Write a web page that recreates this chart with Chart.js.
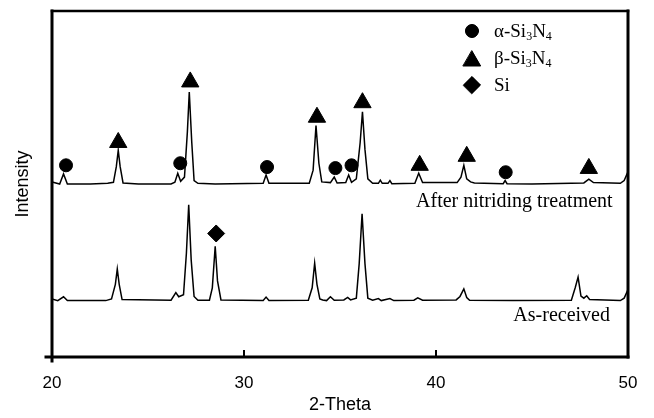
<!DOCTYPE html>
<html>
<head>
<meta charset="utf-8">
<script src="https://cdn.jsdelivr.net/npm/chart.js@4/dist/chart.umd.min.js"></script>
<style>
  html, body { margin: 0; padding: 0; background: #fff; }
  #wrap { width: 654px; height: 418px; position: relative; }
</style>
</head>
<body>
<div id="wrap"><canvas id="c" width="654" height="418"></canvas></div>
<script>
// ---- Data (2-Theta in degrees, intensity in arbitrary offset units) ----
const xTicks = [20, 30, 40, 50];

const nitridedX = [20.0, 20.4, 20.6, 20.8, 22.0, 22.9, 23.2, 23.35, 23.45, 23.55, 23.7, 24.5,
  26.2, 26.4, 26.55, 26.7, 26.9, 27.05, 27.15, 27.28, 27.4, 27.6, 28.5,
  31.0, 31.15, 31.3, 33.4, 33.6, 33.75, 33.9, 34.05, 34.5, 34.7, 34.85,
  35.3, 35.45, 35.6, 35.85, 36.05, 36.17, 36.3, 36.45, 36.7,
  37.0, 37.1, 37.2, 37.5, 37.6, 37.7, 38.9, 39.1, 39.3,
  41.1, 41.3, 41.45, 41.6, 41.8, 42.0, 43.5, 43.6, 43.7, 45.0,
  47.7, 47.96, 48.2, 49.6, 49.8, 49.95, 50.0];
const nitridedY = [50.6, 50.0, 52.9, 50.0, 50.0, 50.2, 50.5, 55.0, 59.7, 55.0, 50.3, 50.0,
  50.0, 50.5, 53.1, 50.8, 52.0, 65.0, 76.6, 62.0, 51.0, 50.2, 50.0,
  50.2, 52.6, 50.2, 50.2, 54.0, 66.9, 56.0, 50.6, 50.4, 52.0, 50.3,
  50.4, 52.6, 50.5, 51.5, 62.0, 70.9, 60.0, 51.5, 50.2,
  50.2, 51.1, 50.2, 50.2, 51.0, 50.1, 50.2, 53.1, 50.4,
  50.4, 52.0, 55.4, 51.5, 50.6, 50.3, 50.1, 51.0, 50.1, 50.0,
  50.3, 51.4, 50.4, 50.2, 51.0, 52.9, 52.0];

const receivedX = [20.0, 20.3, 20.6, 20.8, 22.8, 23.1, 23.3, 23.4, 23.5, 23.65,
  26.2, 26.45, 26.6, 26.85, 27.0, 27.12, 27.25, 27.4, 27.6,
  28.2, 28.35, 28.5, 28.62, 28.8, 31.0, 31.15, 31.3,
  33.35, 33.55, 33.68, 33.8, 33.95, 34.1, 34.3, 34.5, 34.7,
  35.2, 35.4, 35.55, 35.85, 36.0, 36.15, 36.3, 36.45, 36.7,
  37.0, 37.15, 37.6, 37.8, 38.85, 39.05, 39.3,
  41.05, 41.25, 41.45, 41.6, 41.75, 44.0,
  47.05, 47.25, 47.4, 47.55, 47.7, 47.85, 48.0, 49.6, 49.8, 49.97, 50.0];
const receivedY = [16.8, 16.3, 17.4, 16.3, 16.3, 16.8, 21.0, 25.4, 21.0, 16.6,
  16.4, 18.6, 17.4, 18.0, 30.0, 44.0, 28.0, 17.5, 16.4,
  16.4, 20.0, 32.0, 22.0, 16.5, 16.3, 17.3, 16.3,
  16.4, 20.0, 27.1, 21.0, 16.8, 16.5, 16.3, 17.4, 16.4,
  16.5, 17.2, 16.5, 17.0, 27.0, 41.4, 27.0, 17.0, 16.4,
  16.9, 16.3, 16.9, 16.3, 16.4, 17.1, 16.4,
  16.5, 17.5, 19.7, 17.2, 16.4, 16.3,
  16.4, 20.0, 23.1, 17.6, 17.0, 17.7, 16.6, 16.3, 17.0, 19.1, 18.0];

// Phase markers (position of each symbol)
const alphaX = [20.73, 26.68, 31.2, 34.76, 35.6, 43.63];
const alphaY = [55.4, 56.0, 54.9, 54.6, 55.4, 53.4];
const betaX  = [23.45, 27.2, 33.8, 36.17, 39.15, 41.6, 47.96];
const betaY  = [62.0, 79.5, 69.3, 73.5, 55.4, 58.0, 54.5];
const siX    = [28.55];
const siY    = [35.7];

const legendLabels = [["α-Si", "3", "N", "4"], ["β-Si", "3", "N", "4"], ["Si"]];
const traceLabels = ["After nitriding treatment", "As-received"];

const toPts = (xs, ys) => xs.map((x, i) => ({ x: x, y: ys[i] }));

const SERIF = '"Liberation Serif", "Times New Roman", serif';
const SANS = '"Liberation Sans", Arial, sans-serif';

const decorPlugin = {
  id: 'decor',
  afterDraw(chart) {
    const ctx = chart.ctx;
    const a = chart.chartArea;
    const xs = chart.scales.x, ys = chart.scales.y;
    ctx.save();
    // frame
    ctx.strokeStyle = '#000';
    ctx.lineCap = 'square';
    ctx.lineWidth = 2.5;
    ctx.beginPath(); ctx.moveTo(a.left, a.top); ctx.lineTo(a.right, a.top); ctx.stroke();
    ctx.lineWidth = 3;
    ctx.beginPath(); ctx.moveTo(a.right, a.top); ctx.lineTo(a.right, a.bottom); ctx.stroke();
    ctx.beginPath(); ctx.moveTo(a.left, a.top); ctx.lineTo(a.left, a.bottom + 4); ctx.stroke();
    ctx.beginPath(); ctx.moveTo(a.left - 6, a.bottom); ctx.lineTo(a.right, a.bottom); ctx.stroke();
    // inward ticks
    ctx.lineWidth = 2;
    xTicks.slice(1, -1).forEach(v => {
      const px = xs.getPixelForValue(v);
      ctx.beginPath(); ctx.moveTo(px, a.bottom); ctx.lineTo(px, a.bottom - 6); ctx.stroke();
    });

    // legend
    const lx = a.left + 420, ly0 = a.top + 20, dy = 27;
    const styles = ['circle', 'triangle', 'rectRot'];
    const radii = [6.5, 10, 8.5];
    styles.forEach((st, i) => {
      const y = ly0 + i * dy;
      ctx.fillStyle = '#000';
      ctx.strokeStyle = '#000';
      ctx.lineWidth = 1;
      Chart.helpers.drawPoint(ctx, { pointStyle: st, radius: radii[i], rotation: 0, borderWidth: 1 }, lx, st === 'triangle' ? y + 3 : y);
      ctx.fill();
      // text with subscripts
      let tx = lx + 22;
      ctx.textBaseline = 'alphabetic';
      ctx.textAlign = 'left';
      legendLabels[i].forEach((part, k) => {
        const sub = (k % 2 === 1);
        ctx.font = (sub ? '12px ' : '19px ') + SERIF;
        ctx.fillText(part, tx, y + 6 + (sub ? 3 : 0));
        tx += ctx.measureText(part).width;
      });
    });

    // trace labels
    ctx.font = '20px ' + SERIF;
    ctx.textAlign = 'right';
    ctx.textBaseline = 'middle';
    ctx.fillStyle = '#000';
    ctx.fillText(traceLabels[0], xs.getPixelForValue(49.2), ys.getPixelForValue(44.8));
    ctx.fillText(traceLabels[1], xs.getPixelForValue(49.06), ys.getPixelForValue(11.9));
    ctx.restore();
  }
};

new Chart(document.getElementById('c'), {
  type: 'line',
  data: {
    datasets: [
      { data: toPts(nitridedX, nitridedY), borderColor: '#000', borderWidth: 1.5, pointRadius: 0, tension: 0, fill: false },
      { data: toPts(receivedX, receivedY), borderColor: '#000', borderWidth: 1.5, pointRadius: 0, tension: 0, fill: false },
      { data: toPts(alphaX, alphaY), showLine: false, pointStyle: 'circle', pointRadius: 6.5, backgroundColor: '#000', borderColor: '#000' },
      { data: toPts(betaX, betaY), showLine: false, pointStyle: 'triangle', pointRadius: 10, backgroundColor: '#000', borderColor: '#000' },
      { data: toPts(siX, siY), showLine: false, pointStyle: 'rectRot', pointRadius: 8.5, backgroundColor: '#000', borderColor: '#000' }
    ]
  },
  options: {
    responsive: false,
    animation: false,
    events: [],
    layout: { padding: { top: 7, right: 26, left: 0, bottom: 0 } },
    plugins: { legend: { display: false }, tooltip: { enabled: false } },
    scales: {
      x: {
        type: 'linear', min: 20, max: 50,
        afterFit: s => { s.height = 61; },
        afterBuildTicks: s => { s.ticks = xTicks.map(v => ({ value: v })); },
        grid: { display: false, drawTicks: false },
        border: { display: false },
        ticks: { color: '#000', font: { family: SANS, size: 17 }, padding: 16, maxRotation: 0 },
        title: { display: true, text: '2-Theta', color: '#000', font: { family: SANS, size: 18 }, padding: { top: 0, bottom: 2 } }
      },
      y: {
        min: 0, max: 100,
        afterFit: s => { s.width = 52; },
        grid: { display: false, drawTicks: false },
        border: { display: false },
        ticks: { display: false },
        title: { display: true, text: 'Intensity', color: '#000', font: { family: SANS, size: 18 }, padding: { top: 12, bottom: 0 } }
      }
    }
  },
  plugins: [decorPlugin]
});
</script>
</body>
</html>
